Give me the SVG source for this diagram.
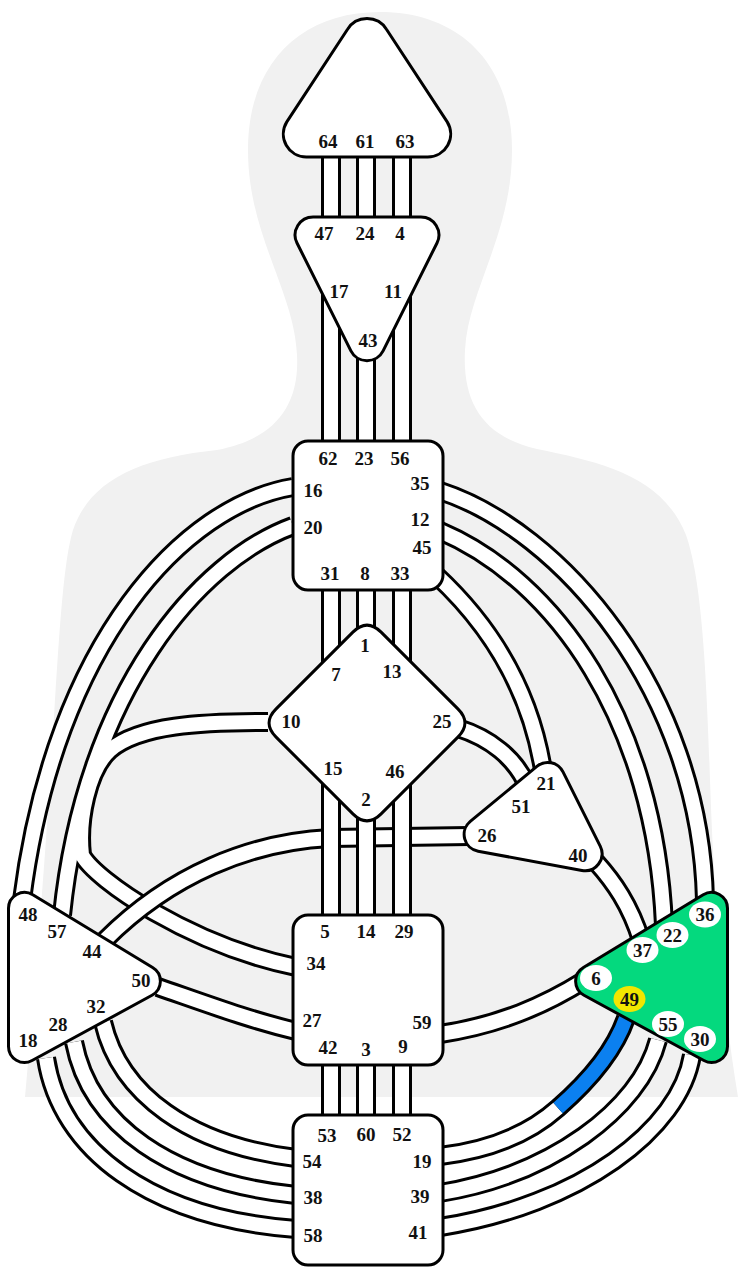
<svg xmlns="http://www.w3.org/2000/svg" width="748" height="1287" viewBox="0 0 748 1287">
<style>
.cb{fill:none;stroke:#000;stroke-width:20;stroke-linecap:butt}
.cw{fill:none;stroke:#fff;stroke-width:14;stroke-linecap:butt}
.blue{fill:none;stroke:#0b80f0;stroke-width:14;stroke-linecap:butt}
.ctr{fill:#fff;stroke:#000;stroke-width:3;stroke-linejoin:round}
.def{fill:#04d97e;stroke:#000;stroke-width:3;stroke-linejoin:round}
text{font-family:"Liberation Serif","Times New Roman",serif;font-weight:bold;font-size:19px;text-anchor:middle;fill:#111}
.gc{fill:#fff}
.gy{fill:#f2e600}
</style>
<rect x="0" y="0" width="748" height="1287" fill="#fff"/>
<path id="body" fill="#f1f1f1" d="M 380 12 C 458 12 512 62 512 150 C 512 235 468 290 465 350 C 462 405 485 437 537 449 C 600 462 662 475 686 535 C 700 575 706 650 710 780 C 714 900 722 1000 738 1097 L 25 1097 C 38 950 46 850 54 717 C 60 620 64 560 73 530 C 90 480 140 458 217 450 C 270 440 300 410 297 355 C 294 290 248 235 248 150 C 248 62 302 12 380 12 Z"/>
<g id="connectors">
  <g id="integration">
    <path class="cb" d="M 293 526 C 200 560 85 690 62 915"/>
    <path class="cb" d="M 268 722 C 200 722 140 725 110 750 C 88 770 78 820 82 855 C 95 880 190 945 296 967"/>
    <path class="cw" d="M 293 526 C 200 560 85 690 62 915"/>
    <path class="cw" d="M 268 722 C 200 722 140 725 110 750 C 88 770 78 820 82 855 C 95 880 190 945 296 967"/>
  </g>
  <g id="ch-16-48"><path class="cb" d="M 293 487 C 185 505 55 640 22 900"/><path class="cw" d="M 293 487 C 185 505 55 640 22 900"/></g>
  <g id="ch-26-44"><path class="cb" d="M 470 836 L 330 838 C 250 842 170 875 105 940"/><path class="cw" d="M 470 836 L 330 838 C 250 842 170 875 105 940"/></g>
  <g id="ch-27-50"><path class="cb" d="M 296 1031 C 250 1020 210 1005 158 987"/><path class="cw" d="M 296 1031 C 250 1020 210 1005 158 987"/></g>
  <g id="ch-54-32"><path class="cb" d="M 296 1158 C 190 1145 120 1095 103 1022"/><path class="cw" d="M 296 1158 C 190 1145 120 1095 103 1022"/></g>
  <g id="ch-38-28"><path class="cb" d="M 296 1195 C 170 1182 90 1125 74 1042"/><path class="cw" d="M 296 1195 C 170 1182 90 1125 74 1042"/></g>
  <g id="ch-58-18"><path class="cb" d="M 296 1229 C 150 1218 60 1150 46 1058"/><path class="cw" d="M 296 1229 C 150 1218 60 1150 46 1058"/></g>
  <g id="ch-19-49"><path class="cb" d="M 440 1156 C 490 1150 530 1133 558 1108 C 590 1080 615 1050 626 1018"/><path class="cw" d="M 440 1156 C 490 1150 530 1133 558 1108"/><path class="blue" d="M 558 1108 C 590 1080 615 1050 626 1018"/></g>
  <g id="ch-39-55"><path class="cb" d="M 440 1193 C 550 1175 640 1110 658 1040"/><path class="cw" d="M 440 1193 C 550 1175 640 1110 658 1040"/></g>
  <g id="ch-41-30"><path class="cb" d="M 440 1227 C 580 1205 680 1130 692 1055"/><path class="cw" d="M 440 1227 C 580 1205 680 1130 692 1055"/></g>
  <g id="ch-59-6"><path class="cb" d="M 440 1034 C 500 1025 545 1005 585 980"/><path class="cw" d="M 440 1034 C 500 1025 545 1005 585 980"/></g>
  <g id="ch-40-37"><path class="cb" d="M 596 862 C 614 882 630 905 641 940"/><path class="cw" d="M 596 862 C 614 882 630 905 641 940"/></g>
  <g id="ch-35-36"><path class="cb" d="M 440 491 C 560 530 700 690 705 900"/><path class="cw" d="M 440 491 C 560 530 700 690 705 900"/></g>
  <g id="ch-12-22"><path class="cb" d="M 440 531 C 555 580 655 720 664 925"/><path class="cw" d="M 440 531 C 555 580 655 720 664 925"/></g>
  <g id="ch-45-21"><path class="cb" d="M 436 575 C 490 625 530 690 543 770"/><path class="cw" d="M 436 575 C 490 625 530 690 543 770"/></g>
  <g id="ch-25-51"><path class="cb" d="M 458 728 C 490 738 515 758 527 785"/><path class="cw" d="M 458 728 C 490 738 515 758 527 785"/></g>
  <g id="verticals">
    <path class="cb" d="M 331 150 V 225 M 366 150 V 225 M 402 150 V 225 M 331 250 V 448 M 366 330 V 448 M 402 250 V 448 M 331 585 V 720 M 366 585 V 720 M 402 585 V 720 M 331 720 V 920 M 366 720 V 920 M 402 720 V 920 M 331 1060 V 1120 M 366 1060 V 1120 M 402 1060 V 1120"/>
    <path class="cw" d="M 331 150 V 225 M 366 150 V 225 M 402 150 V 225 M 331 250 V 448 M 366 330 V 448 M 402 250 V 448 M 331 585 V 720 M 366 585 V 720 M 402 585 V 720 M 331 720 V 920 M 366 720 V 920 M 402 720 V 920 M 331 1060 V 1120 M 366 1060 V 1120 M 402 1060 V 1120"/>
  </g>
</g>
<g id="head">
  <path class="ctr" d="M 386.6 29.5 L 447.2 121.9 A 23 23 0 0 1 427.7 157 L 306.3 157 A 23 23 0 0 1 286.8 121.9 L 347.4 29.5 A 23 23 0 0 1 386.6 29.5 Z"/>
  <text x="328" y="148">64</text><text x="365" y="148">61</text><text x="405" y="148">63</text>
</g>
<g id="ajna">
  <path class="ctr" d="M 313.1 217 L 420.9 217 A 18 18 0 0 1 437 243 L 383.1 350.8 A 18 18 0 0 1 350.9 350.8 L 297 243 A 18 18 0 0 1 313.1 217 Z"/>
  <text x="324" y="240">47</text><text x="365" y="240">24</text><text x="400" y="240">4</text>
  <text x="339" y="298">17</text><text x="393" y="298">11</text><text x="368" y="347">43</text>
</g>
<g id="throat">
  <rect class="ctr" x="293" y="441" width="150" height="149" rx="15"/>
  <text x="328" y="465">62</text><text x="364" y="465">23</text><text x="400" y="465">56</text>
  <text x="313" y="497">16</text><text x="420" y="490">35</text>
  <text x="313" y="534">20</text><text x="420" y="526">12</text>
  <text x="422" y="554">45</text>
  <text x="330" y="580">31</text><text x="365" y="580">8</text><text x="400" y="580">33</text>
</g>
<g id="g-center">
  <path class="ctr" d="M 352.9 632.1 Q 367 618 381.1 632.1 L 457.9 708.9 Q 472 723 457.9 737.1 L 381.1 813.9 Q 367 828 352.9 813.9 L 276.1 737.1 Q 262 723 276.1 708.9 Z"/>
  <text x="365" y="652">1</text><text x="336" y="681">7</text><text x="392" y="678">13</text>
  <text x="291" y="728">10</text><text x="442" y="728">25</text>
  <text x="333" y="775">15</text><text x="395" y="778">46</text><text x="366" y="806">2</text>
</g>
<g id="ego">
  <path class="ctr" d="M 563 771.9 L 600.2 846.2 A 17 17 0 0 1 581.9 870.5 L 478.1 851.2 A 17 17 0 0 1 470.3 821.4 L 536.9 766.4 A 17 17 0 0 1 563 771.9 Z"/>
  <text x="546" y="790">21</text><text x="521" y="813">51</text><text x="487" y="842">26</text><text x="578" y="862">40</text>
</g>
<g id="spleen">
  <path class="ctr" d="M 32.8 894.7 L 152.6 967.5 A 16 16 0 0 1 152 995.3 L 32.1 1060.5 A 16 16 0 0 1 8.5 1046.5 L 8.5 908.4 A 16 16 0 0 1 32.8 894.7 Z"/>
  <text x="28" y="921">48</text><text x="57" y="938">57</text><text x="92" y="958">44</text><text x="141" y="987">50</text>
  <text x="96" y="1013">32</text><text x="58" y="1031">28</text><text x="28" y="1047">18</text>
</g>
<g id="solar-plexus">
  <path class="def" d="M 703.2 894.7 L 583.4 967.5 A 16 16 0 0 0 584 995.3 L 703.9 1060.5 A 16 16 0 0 0 727.5 1046.5 L 727.5 908.4 A 16 16 0 0 0 703.2 894.7 Z"/>
  <ellipse class="gc" cx="705" cy="914.5" rx="16" ry="13"/><text x="705" y="921">36</text>
  <ellipse class="gc" cx="672.5" cy="935" rx="16" ry="13"/><text x="672.5" y="941.5">22</text>
  <ellipse class="gc" cx="642.5" cy="950" rx="16" ry="13"/><text x="642.5" y="956.5">37</text>
  <ellipse class="gc" cx="596" cy="978" rx="16" ry="13"/><text x="596" y="984.5">6</text>
  <ellipse class="gy" cx="629.5" cy="999" rx="16" ry="13"/><text x="629.5" y="1005.5">49</text>
  <ellipse class="gc" cx="668" cy="1024" rx="16" ry="13"/><text x="668" y="1030.5">55</text>
  <ellipse class="gc" cx="700" cy="1039" rx="16" ry="13"/><text x="700" y="1045.5">30</text>
</g>
<g id="sacral">
  <rect class="ctr" x="293" y="915" width="150" height="150" rx="15"/>
  <text x="325" y="938">5</text><text x="366" y="938">14</text><text x="404" y="938">29</text>
  <text x="316" y="970">34</text>
  <text x="312" y="1027">27</text><text x="422" y="1029">59</text>
  <text x="328" y="1054">42</text><text x="366" y="1056">3</text><text x="403" y="1053">9</text>
</g>
<g id="root">
  <rect class="ctr" x="293" y="1115" width="150" height="150" rx="15"/>
  <text x="327" y="1142">53</text><text x="366" y="1141">60</text><text x="402" y="1141">52</text>
  <text x="312" y="1168">54</text><text x="422" y="1168">19</text>
  <text x="313" y="1204">38</text><text x="420" y="1203">39</text>
  <text x="313" y="1242">58</text><text x="418" y="1239">41</text>
</g>
</svg>
